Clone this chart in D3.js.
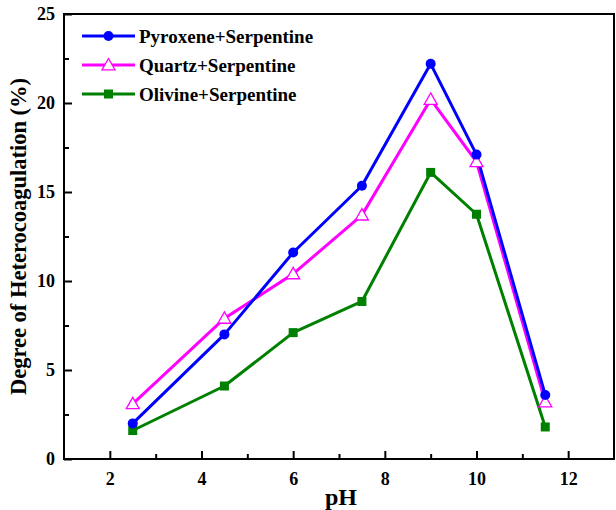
<!DOCTYPE html>
<html>
<head>
<meta charset="utf-8">
<script src="https://cdn.jsdelivr.net/npm/d3@7"></script>
<style>
  html, body { margin: 0; padding: 0; background: #fff; }
  svg { display: block; }
  text { font-family: "Liberation Serif", "Times New Roman", serif; font-weight: bold; fill: #000; }
</style>
</head>
<body>
<svg id="chart" width="616" height="510"></svg>
<script>
// pH values at which heterocoagulation was measured
const phValues = [2.5, 4.5, 6, 7.5, 9, 10, 11.5];

// Degree of heterocoagulation (%) for each mineral pair
const pyroxeneSerpentine = [2.0, 7.0, 11.6, 15.35, 22.2, 17.1, 3.6];
const quartzSerpentine   = [3.1, 7.9, 10.4, 13.7, 20.2, 16.7, 3.2];
const olivineSerpentine  = [1.6, 4.1, 7.1, 8.85, 16.1, 13.75, 1.8];

const seriesNames = ["Pyroxene+Serpentine", "Quartz+Serpentine", "Olivine+Serpentine"];

const xTicks = [2, 4, 6, 8, 10, 12];
const yTicks = [0, 5, 10, 15, 20, 25];

const svg = d3.select("#chart");
const margin = { left: 64, right: 2, top: 14, bottom: 51 };
const W = 616, H = 510;

const x = d3.scaleLinear().domain([1, 13]).range([margin.left, W - margin.right]);
const y = d3.scaleLinear().domain([0, 25]).range([H - margin.bottom, margin.top]);

const series = [
  { name: seriesNames[0], values: pyroxeneSerpentine, color: "#0000ff", marker: "circle" },
  { name: seriesNames[1], values: quartzSerpentine,   color: "#ff00ff", marker: "triangle" },
  { name: seriesNames[2], values: olivineSerpentine,  color: "#008000", marker: "square" }
];

// frame
svg.append("rect")
  .attr("x", x(1)).attr("y", y(25))
  .attr("width", x(13) - x(1)).attr("height", y(0) - y(25))
  .attr("fill", "none").attr("stroke", "#000").attr("stroke-width", 2);

// x axis: inward ticks, major every 2, minor every 1
svg.append("g").attr("transform", `translate(0,${y(0)})`)
  .call(d3.axisBottom(x).tickValues(d3.range(2, 13, 1)).tickSize(-8).tickFormat(""))
  .call(g => g.select(".domain").remove())
  .call(g => g.selectAll(".tick line")
    .attr("stroke-width", 2)
    .attr("y2", d => (d % 2 === 0 ? -8 : -5)));
svg.append("g").attr("transform", `translate(0,${y(0)})`)
  .call(d3.axisBottom(x).tickValues(xTicks).tickSize(0))
  .call(g => g.select(".domain").remove())
  .call(g => g.selectAll("text").style("font-size", "18px").attr("y", 25.5).attr("dy", null));

// y axis
svg.append("g").attr("transform", `translate(${x(1)},0)`)
  .call(d3.axisLeft(y).tickValues(d3.range(0, 25.1, 2.5)).tickSize(-8).tickFormat(""))
  .call(g => g.select(".domain").remove())
  .call(g => g.selectAll(".tick line")
    .attr("stroke-width", 2)
    .attr("x2", d => (d % 5 === 0 ? 8 : 5)));
svg.append("g").attr("transform", `translate(${x(1)},0)`)
  .call(d3.axisLeft(y).tickValues(yTicks).tickSize(0).tickPadding(9))
  .call(g => g.select(".domain").remove())
  .call(g => g.selectAll("text").style("font-size", "18px"));

// axis titles
svg.append("text")
  .attr("x", (x(1) + x(13)) / 2 + 2).attr("y", 505)
  .attr("text-anchor", "middle").style("font-size", "24px").text("pH");
svg.append("text")
  .attr("transform", `translate(26,${(y(0) + y(25)) / 2}) rotate(-90)`)
  .attr("text-anchor", "middle").style("font-size", "22.5px")
  .text("Degree of Heterocoagulation (%)");

const line = d3.line().x(d => x(d[0])).y(d => y(d[1]));

function drawMarker(g, type, color, cx, cy) {
  if (type === "circle") {
    g.append("circle").attr("cx", cx).attr("cy", cy).attr("r", 5).attr("fill", color);
  } else if (type === "square") {
    g.append("rect").attr("x", cx - 4.5).attr("y", cy - 4.5)
      .attr("width", 9).attr("height", 9).attr("fill", color);
  } else {
    const s = 6.5;
    g.append("path")
      .attr("d", `M${cx},${cy - s}L${cx + s},${cy + s * 0.75}L${cx - s},${cy + s * 0.75}Z`)
      .attr("fill", "#fff").attr("stroke", color).attr("stroke-width", 1.3);
  }
}

// lines first, markers on top
series.slice().reverse().forEach(s => {
  const pts = phValues.map((p, i) => [p, s.values[i]]);
  svg.append("path").datum(pts).attr("d", line)
    .attr("fill", "none").attr("stroke", s.color).attr("stroke-width", 3)
    .attr("stroke-linejoin", "round");
});
series.slice().reverse().forEach(s => {
  const g = svg.append("g");
  phValues.forEach((p, i) => drawMarker(g, s.marker, s.color, x(p), y(s.values[i])));
});

// legend
const legend = svg.append("g");
series.forEach((s, i) => {
  const ly = 36 + i * 29;
  legend.append("line").attr("x1", 82).attr("x2", 135).attr("y1", ly).attr("y2", ly)
    .attr("stroke", s.color).attr("stroke-width", 3);
  drawMarker(legend, s.marker, s.color, 108.5, ly);
  legend.append("text").attr("x", 139).attr("y", ly + 7)
    .style("font-size", "19px").text(s.name);
});
</script>
</body>
</html>
